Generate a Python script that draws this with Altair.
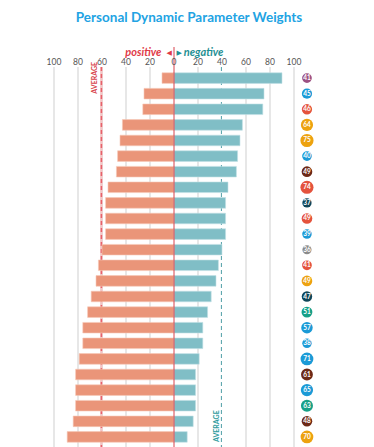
import altair as alt
import pandas as pd

positive = [10, 25, 26, 43, 45, 47, 48, 55, 57, 57, 57, 60, 63, 65, 69, 72, 76, 76, 79, 82, 82, 82, 84, 89]
negative = [90, 75, 74, 57, 55, 53, 52, 45, 43, 43, 43, 40, 37, 35, 31, 28, 24, 24, 21, 18, 18, 18, 16, 11]
badge_values = [41, 45, 46, 64, 75, 40, 49, 74, 37, 49, 39, 36, 41, 49, 47, 51, 57, 38, 71, 61, 65, 63, 48, 70]
badge_groups = ["purple", "blue", "red", "yellow", "yellow", "blue", "brown", "red", "navy", "red",
                "blue", "gray", "red", "yellow", "navy", "green", "blue", "blue", "blue", "brown",
                "blue", "green", "brown", "yellow"]
group_names = ["purple", "blue", "red", "yellow", "brown", "navy", "gray", "green"]
group_colors = ["#9c5182", "#1b9ad6", "#e4533d", "#eda20f", "#6d2916", "#0f4659", "#8b8b8b", "#17a088"]
tick_values = [-100, -80, -60, -40, -20, 0, 20, 40, 60, 80, 100]
avg_positive = 60.5
avg_negative = 39.5
title_text = "Personal Dynamic Parameter Weights"

n = len(positive)
rows = list(range(n))
df = pd.DataFrame({
    "row": rows,
    "pos_start": [-v for v in positive],
    "zero": [0] * n,
    "neg_end": negative,
    "badge": badge_values,
    "group": badge_groups,
    "badge_x": [110.8] * n,
})
ticks = pd.DataFrame({"t": tick_values, "label": [str(abs(v)) for v in tick_values]})
grid = pd.DataFrame({"t": [v for v in tick_values if v not in (0, 40)]})
refs = pd.DataFrame({"z": [0], "al": [-avg_positive], "ar": [avg_negative]})
ann = pd.DataFrame({
    "hp": [-10.5], "hn": [8.1], "tl": [-4.0], "tr": [4.3],
    "ll": [-66.0], "lr": [35.6], "tx": [12.5],
    "pos": ["positive"], "neg": ["negative"], "al": ["◀"], "ar": ["▶"], "avg": ["AVERAGE"],
    "title": [title_text],
})

W, H = 264, 381
xs = alt.Scale(domain=[-100, 120], range=[0, W])
ys = alt.Scale(domain=rows, paddingInner=0.32, paddingOuter=0.37)
FONT = "Lato"
RED = "#e03a48"
TEAL = "#1f8f93"

base = alt.Chart(df)
rbase = alt.Chart(refs)
abase = alt.Chart(ann)

grid_l = alt.Chart(grid).mark_rule(color="#cfcfcf", strokeWidth=1).encode(
    x=alt.X("t:Q", scale=xs, axis=None), y=alt.value(0), y2=alt.value(H))

avg_l_bg = rbase.mark_rule(color="#f2c4c4", strokeWidth=2.5).encode(
    x=alt.X("al:Q", scale=xs, axis=None), y=alt.value(0), y2=alt.value(H))
avg_l = rbase.mark_rule(color="#e8616a", strokeWidth=1.5, strokeDash=[4, 3]).encode(
    x=alt.X("al:Q", scale=xs, axis=None), y=alt.value(0), y2=alt.value(H))
avg_r = rbase.mark_rule(color="#4f9ea6", strokeWidth=1, strokeDash=[4, 3]).encode(
    x=alt.X("ar:Q", scale=xs, axis=None), y=alt.value(0), y2=alt.value(H))

bars_pos = base.mark_bar(color="#ea9579", stroke="#f6c9b9", strokeWidth=0.6).encode(
    x=alt.X("pos_start:Q", scale=xs, axis=None), x2="zero:Q",
    y=alt.Y("row:O", scale=ys, axis=None))
bars_neg = base.mark_bar(color="#80bec6", stroke="#c3e1e5", strokeWidth=0.6).encode(
    x=alt.X("zero:Q", scale=xs, axis=None), x2="neg_end:Q",
    y=alt.Y("row:O", scale=ys, axis=None))

zero = rbase.mark_rule(color="#d8434c", strokeWidth=1).encode(
    x=alt.X("z:Q", scale=xs, axis=None), y=alt.value(-20), y2=alt.value(H))

tick_text = alt.Chart(ticks).mark_text(font=FONT, fontSize=8.5, color="#555555", baseline="bottom").encode(
    x=alt.X("t:Q", scale=xs, axis=None), y=alt.value(0), text="label:N")

badges = base.mark_circle(opacity=1).encode(
    x=alt.X("badge_x:Q", scale=xs, axis=None),
    y=alt.Y("row:O", scale=ys, axis=None),
    size=alt.Size("badge:Q", scale=alt.Scale(domain=[0, 80], range=[0, 185]), legend=None),
    color=alt.Color("group:N", scale=alt.Scale(domain=group_names, range=group_colors), legend=None))
badge_text = base.mark_text(font=FONT, fontSize=6.5, fontWeight="bold", color="white", baseline="middle").encode(
    x=alt.X("badge_x:Q", scale=xs, axis=None),
    y=alt.Y("row:O", scale=ys, axis=None),
    text=alt.Text("badge:Q"))

hdr_pos = abase.mark_text(font=FONT, fontSize=11, fontWeight="bold", fontStyle="italic",
                          color=RED, align="right", baseline="middle").encode(
    x=alt.X("hp:Q", scale=xs, axis=None), y=alt.value(-14), text="pos:N")
hdr_neg = abase.mark_text(font=FONT, fontSize=11, fontWeight="bold", fontStyle="italic",
                          color=TEAL, align="left", baseline="middle").encode(
    x=alt.X("hn:Q", scale=xs, axis=None), y=alt.value(-14), text="neg:N")
tri_l = abase.mark_text(font="DejaVu Sans", fontSize=7, color=RED, baseline="middle").encode(
    x=alt.X("tl:Q", scale=xs, axis=None), y=alt.value(-14), text="al:N")
tri_r = abase.mark_text(font="DejaVu Sans", fontSize=7, color=TEAL, baseline="middle").encode(
    x=alt.X("tr:Q", scale=xs, axis=None), y=alt.value(-14), text="ar:N")

avg_lbl_l = abase.mark_text(font=FONT, fontSize=7, fontWeight="bold", color="#d8434c",
                            angle=270, align="right", baseline="middle").encode(
    x=alt.X("ll:Q", scale=xs, axis=None), y=alt.value(-5), text="avg:N")
avg_lbl_r = abase.mark_text(font=FONT, fontSize=7, fontWeight="bold", color="#2c9a9c",
                            angle=270, align="left", baseline="middle").encode(
    x=alt.X("lr:Q", scale=xs, axis=None), y=alt.value(375), text="avg:N")

title = abase.mark_text(font=FONT, fontSize=13.5, fontWeight="bold", color="#22a3e3",
                        align="center", baseline="middle").encode(
    x=alt.X("tx:Q", scale=xs, axis=None), y=alt.value(-49), text="title:N")

chart = alt.layer(
    grid_l, avg_l_bg, avg_l, avg_r, bars_pos, bars_neg, zero, tick_text, badges, badge_text,
    hdr_pos, hdr_neg, tri_l, tri_r, avg_lbl_l, avg_lbl_r, title
).properties(
    width=W, height=H,
    autosize=alt.AutoSizeParams(type="none"),
    padding={"left": 46, "top": 59, "right": 0, "bottom": 0},
).configure_view(strokeWidth=0)

chart.save("out.html", embed_options={"renderer": "svg", "actions": False})
